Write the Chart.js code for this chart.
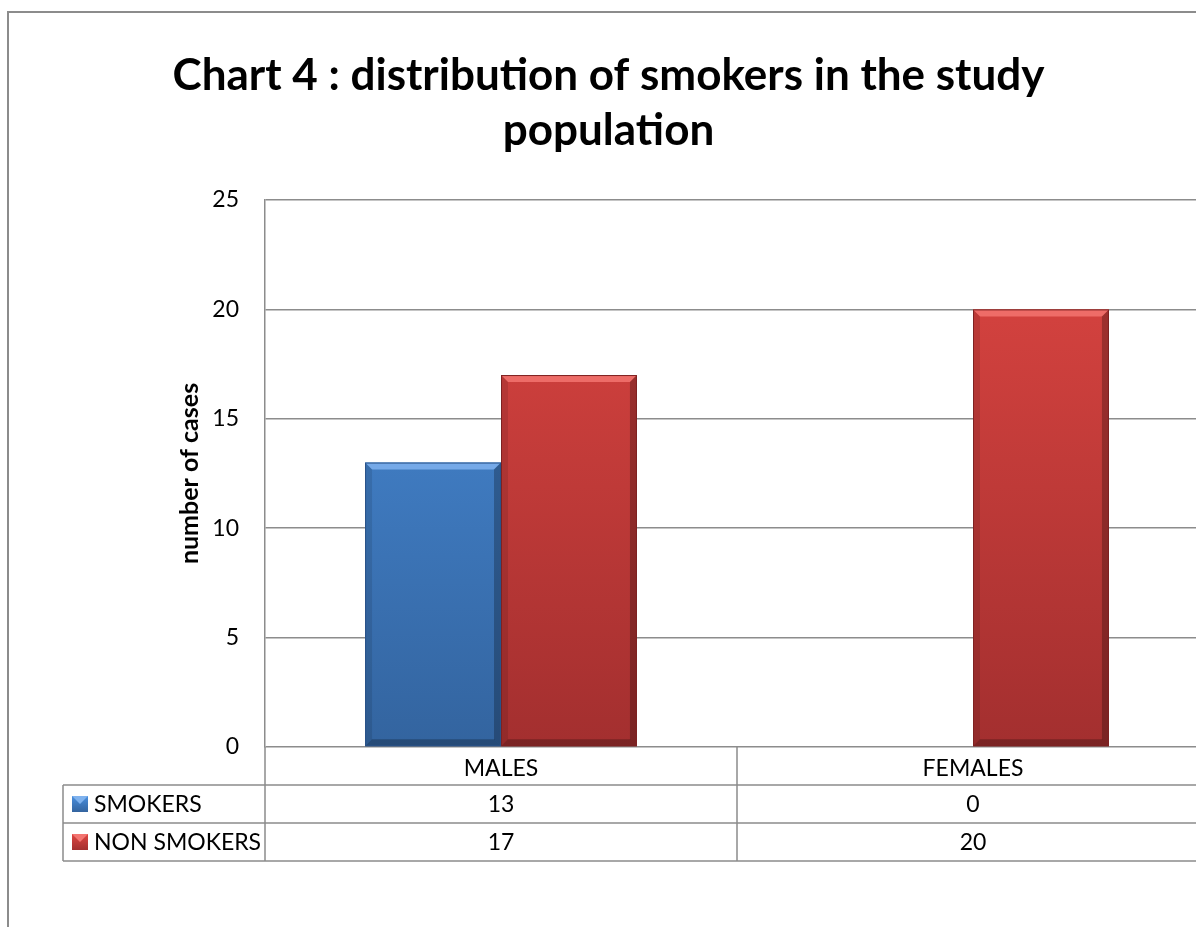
<!DOCTYPE html>
<html>
<head>
<meta charset="utf-8">
<script src="https://cdn.jsdelivr.net/npm/chart.js@4/dist/chart.umd.min.js"></script>
<style>
  html, body { margin: 0; padding: 0; background: #fff; overflow: hidden; }
  #wrap { position: absolute; left: 0; top: 0; width: 1230px; height: 927px; }
  #frame { position: absolute; left: 7px; top: 11px; width: 2000px; height: 2000px;
           border-top: 2px solid #8c8c8c; border-left: 2px solid #8c8c8c; pointer-events: none; }
</style>
</head>
<body>
<div id="wrap"><canvas id="chart" width="1230" height="927"></canvas></div>
<div id="frame"></div>
<script>
// chart data
const categories = ['MALES', 'FEMALES'];
const seriesNames = ['SMOKERS', 'NON SMOKERS'];
const smokers = [13, 0];
const nonSmokers = [17, 20];
const yMin = 0, yMax = 25, yStep = 5;

const FONT = 'Lato, "Open Sans", sans-serif';
const LINE = '#8c8c8c';

// colours for each series: [top, bottom, light bevel, dark edge]
const palette = [
  ['#4a8fde', '#33649f', '#7fb2ee', '#2a5288'],
  ['#de4642', '#a32f2f', '#f37470', '#7e2222']
];

function barGradient(ctx, i) {
  const area = ctx.chart.chartArea;
  if (!area) return palette[i][0];
  const g = ctx.chart.ctx.createLinearGradient(0, area.top, 0, area.bottom);
  g.addColorStop(0, palette[i][0]);
  g.addColorStop(1, palette[i][1]);
  return g;
}

// light / dark edges so bars look bevelled like the original
const bevelPlugin = {
  id: 'bevel',
  afterDatasetsDraw(chart) {
    const c = chart.ctx;
    chart.data.datasets.forEach((ds, di) => {
      chart.getDatasetMeta(di).data.forEach(bar => {
        const h = bar.base - bar.y;
        if (h < 2) return;
        const l = bar.x - bar.width / 2, r = bar.x + bar.width / 2;
        const t = bar.y, b = bar.base, e = 7;
        c.save();
        c.fillStyle = palette[di][2];
        c.globalAlpha = 0.85;
        c.beginPath();
        c.moveTo(l, t); c.lineTo(r, t); c.lineTo(r - e, t + e); c.lineTo(l + e, t + e); c.closePath();
        c.fill();
        c.globalAlpha = 0.25;
        c.fillStyle = '#000';
        c.beginPath();
        c.moveTo(r, t); c.lineTo(r, b); c.lineTo(r - e, b - e); c.lineTo(r - e, t + e); c.closePath();
        c.fill();
        c.beginPath();
        c.moveTo(l, b); c.lineTo(r, b); c.lineTo(r - e, b - e); c.lineTo(l + e, b - e); c.closePath();
        c.fill();
        c.globalAlpha = 0.1;
        c.beginPath();
        c.moveTo(l, t); c.lineTo(l, b); c.lineTo(l + e, b - e); c.lineTo(l + e, t + e); c.closePath();
        c.fill();
        c.globalAlpha = 1;
        c.strokeStyle = palette[di][3];
        c.lineWidth = 1;
        c.strokeRect(l + 0.5, t + 0.5, r - l - 1, h - 1);
        c.restore();
      });
    });
  }
};

// data table under the plot, laid out from the x scale
const tablePlugin = {
  id: 'dataTable',
  afterDraw(chart) {
    const c = chart.ctx;
    const x = chart.scales.x;
    const area = chart.chartArea;
    const rowH = 38;
    const top = area.bottom;
    const keyLeft = 63;
    const cols = [area.left];
    for (let i = 1; i < categories.length; i++) {
      cols.push((x.getPixelForValue(i - 1) + x.getPixelForValue(i)) / 2);
    }
    cols.push(area.right);
    const rowsY = [top, top + rowH, top + 2 * rowH, top + 3 * rowH];

    c.save();
    c.strokeStyle = LINE;
    c.lineWidth = 1.5;
    c.beginPath();
    for (let r = 1; r < rowsY.length; r++) {
      c.moveTo(keyLeft, rowsY[r]); c.lineTo(area.right, rowsY[r]);
    }
    cols.forEach(cx => { c.moveTo(cx, top); c.lineTo(cx, rowsY[3]); });
    c.moveTo(keyLeft, rowsY[1]); c.lineTo(keyLeft, rowsY[3]);
    c.stroke();

    const values = [smokers, nonSmokers];
    c.font = '23px ' + FONT;
    c.fillStyle = '#000';
    c.textBaseline = 'middle';
    values.forEach((vals, s) => {
      const cy = (rowsY[s + 1] + rowsY[s + 2]) / 2;
      // legend key
      const kx = 72, ky = cy - 8, ks = 16;
      const g = c.createLinearGradient(0, ky, 0, ky + ks);
      g.addColorStop(0, palette[s][0]);
      g.addColorStop(1, palette[s][1]);
      c.fillStyle = g;
      c.fillRect(kx, ky, ks, ks);
      c.fillStyle = palette[s][2];
      c.beginPath();
      c.moveTo(kx, ky); c.lineTo(kx + ks, ky); c.lineTo(kx + ks / 2, ky + ks / 2); c.closePath();
      c.fill();
      c.fillStyle = '#000';
      c.textAlign = 'left';
      c.fillText(seriesNames[s], 94, cy + 1);
      c.textAlign = 'center';
      vals.forEach((v, i) => c.fillText(String(v), x.getPixelForValue(i), cy + 1));
    });
    c.restore();
  }
};

new Chart(document.getElementById('chart'), {
  type: 'bar',
  data: {
    labels: categories,
    datasets: [
      { label: seriesNames[0], data: smokers, backgroundColor: ctx => barGradient(ctx, 0) },
      { label: seriesNames[1], data: nonSmokers, backgroundColor: ctx => barGradient(ctx, 1) }
    ]
  },
  options: {
    responsive: false,
    animation: false,
    devicePixelRatio: 1,
    barPercentage: 1,
    categoryPercentage: 0.576,
    layout: { padding: { left: 8, right: 21, top: 12, bottom: 0 } },
    plugins: {
      legend: { display: false },
      tooltip: { enabled: false },
      title: {
        display: true,
        text: ['Chart 4 : distribution of smokers in the study', 'population'],
        color: '#000',
        font: { family: FONT, size: 44, weight: 'bold', lineHeight: 1.25 },
        padding: { top: 36, bottom: 42 }
      }
    },
    scales: {
      x: {
        grid: { display: false },
        border: { display: false },
        ticks: { color: '#000', font: { family: FONT, size: 23 }, padding: 0, maxRotation: 0, autoSkip: false },
        afterFit: s => { s.height = 180; }
      },
      y: {
        min: yMin,
        max: yMax,
        ticks: { stepSize: yStep, color: '#000', font: { family: FONT, size: 23 }, padding: 26 },
        grid: { color: LINE, lineWidth: 1.5, drawTicks: false },
        border: { color: LINE, width: 1.5 },
        title: {
          display: true,
          text: 'number of cases',
          color: '#000',
          font: { family: FONT, size: 25, weight: 'bold', lineHeight: 1.2 },
          padding: { top: 167, bottom: 0 }
        },
        afterFit: s => { s.width = 257; }
      }
    }
  },
  plugins: [bevelPlugin, tablePlugin]
});
</script>
</body>
</html>
